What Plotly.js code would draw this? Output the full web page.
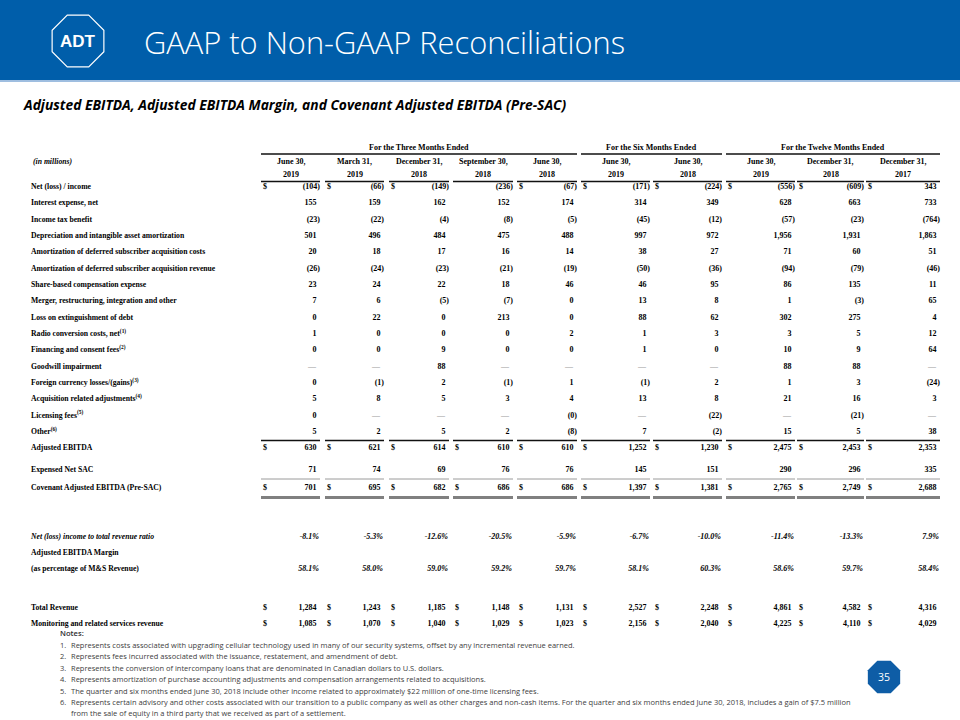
<!DOCTYPE html>
<html>
<head>
<meta charset="utf-8">
<script src="https://cdn.plot.ly/plotly-3.0.1.min.js"></script>
<style>html,body{margin:0;padding:0;background:#fff;}#chart{width:960px;height:720px;}</style>
</head>
<body>
<div id="chart"></div>
<script>
// ---------------- DATA ----------------
const columnMonths = ['June 30,','March 31,','December 31,','September 30,','June 30,','June 30,','June 30,','June 30,','December 31,','December 31,'];
const columnYears = ['2019','2019','2018','2018','2018','2019','2018','2019','2018','2017'];
const groupTitles = ['For the Three Months Ended','For the Six Months Ended','For the Twelve Months Ended'];
const groupSpans = [[0,4],[5,6],[7,9]];

const rowLabels = [
  'Net (loss) / income',
  'Interest expense, net',
  'Income tax benefit',
  'Depreciation and intangible asset amortization',
  'Amortization of deferred subscriber acquisition costs',
  'Amortization of deferred subscriber acquisition revenue',
  'Share-based compensation expense',
  'Merger, restructuring, integration and other',
  'Loss on extinguishment of debt',
  'Radio conversion costs, net<sup>(1)</sup>',
  'Financing and consent fees<sup>(2)</sup>',
  'Goodwill impairment',
  'Foreign currency losses/(gains)<sup>(3)</sup>',
  'Acquisition related adjustments<sup>(4)</sup>',
  'Licensing fees<sup>(5)</sup>',
  'Other<sup>(6)</sup>',
  'Adjusted EBITDA',
  'Expensed Net SAC',
  'Covenant Adjusted EBITDA (Pre-SAC)'
];
const netIncome        = [-104,-66,-149,-236,-67,-171,-224,-556,-609,343];
const interestExpense  = [155,159,162,152,174,314,349,628,663,733];
const incomeTaxBenefit = [-23,-22,-4,-8,-5,-45,-12,-57,-23,-764];
const depreciation     = [501,496,484,475,488,997,972,1956,1931,1863];
const amortSacCosts    = [20,18,17,16,14,38,27,71,60,51];
const amortSacRevenue  = [-26,-24,-23,-21,-19,-50,-36,-94,-79,-46];
const shareBasedComp   = [23,24,22,18,46,46,95,86,135,11];
const mergerOther      = [7,6,-5,-7,0,13,8,1,-3,65];
const lossOnDebt       = [0,22,0,213,0,88,62,302,275,4];
const radioConversion  = [1,0,0,0,2,1,3,3,5,12];
const financingFees    = [0,0,9,0,0,1,0,10,9,64];
const goodwillImpair   = [null,null,88,null,null,null,null,88,88,null];
const foreignCurrency  = [0,-1,2,-1,1,-1,2,1,3,-24];
const acquisitionAdj   = [5,8,5,3,4,13,8,21,16,3];
const licensingFees    = [0,null,null,null,-0,null,-22,null,-21,null];
const otherItems       = [5,2,5,2,-8,7,-2,15,5,38];
const adjustedEbitda   = [630,621,614,610,610,1252,1230,2475,2453,2353];
const expensedNetSac   = [71,74,69,76,76,145,151,290,296,335];
const covenantEbitda   = [701,695,682,686,686,1397,1381,2765,2749,2688];

const ratioLabel  = 'Net (loss) income to total revenue ratio';
const marginLabel1 = 'Adjusted EBITDA Margin';
const marginLabel2 = '(as percentage of M&S Revenue)';
const netIncomeRatio = [-8.1,-5.3,-12.6,-20.5,-5.9,-6.7,-10.0,-11.4,-13.3,7.9];
const ebitdaMargin   = [58.1,58.0,59.0,59.2,59.7,58.1,60.3,58.6,59.7,58.4];

const revenueLabels = ['Total Revenue','Monitoring and related services revenue'];
const totalRevenue      = [1284,1243,1185,1148,1131,2527,2248,4861,4582,4316];
const monitoringRevenue = [1085,1070,1040,1029,1023,2156,2040,4225,4110,4029];

const noteLines = [
  ['1.','Represents costs associated with upgrading cellular technology used in many of our security systems, offset by any incremental revenue earned.'],
  ['2.','Represents fees incurred associated with the issuance, restatement, and amendment of debt.'],
  ['3.','Represents the conversion of intercompany loans that are denominated in Canadian dollars to U.S. dollars.'],
  ['4.','Represents amortization of purchase accounting adjustments and compensation arrangements related to acquisitions.'],
  ['5.','The quarter and six months ended June 30, 2018 include other income related to approximately $22 million of one-time licensing fees.'],
  ['6.','Represents certain advisory and other costs associated with our transition to a public company as well as other charges and non-cash items. For the quarter and six months ended June 30, 2018, includes a gain of $7.5 million'],
  ['','from the sale of equity in a third party that we received as part of a settlement.']
];

// ---------------- LAYOUT CONSTANTS ----------------
const colLeft  = [261,325,389,453,517,581,653,726,797,866];
const colRight = [320,384,449,513,577,650,722,795,864,940];
const bodySeries = [netIncome,interestExpense,incomeTaxBenefit,depreciation,amortSacCosts,amortSacRevenue,
  shareBasedComp,mergerOther,lossOnDebt,radioConversion,financingFees,goodwillImpair,foreignCurrency,
  acquisitionAdj,licensingFees,otherItems,adjustedEbitda,expensedNetSac,covenantEbitda];
const rowY = [];
for (let i=0;i<16;i++) rowY.push(187 + i*16.33);
rowY.push(448, 470, 488);
const dollarFlags = {0:[1,1,1,0,1,1,1,1,1,1],16:'all',18:'all'};
const ratioY = 537, marginY1 = 553, marginY2 = 569;
const revenueY = [608, 624];
const labelX = 31;

const serif = 'Liberation Serif, Times New Roman, serif';
const sans = 'Open Sans, Noto Sans, sans-serif';
const FS = 8;
const LFS = 7.7;

function fmt(v){
  if (v === null) return '—';
  const neg = v < 0 || Object.is(v,-0);
  const s = Math.abs(v).toLocaleString('en-US');
  return neg ? '(' + s + ')' : s;
}
function isNeg(v){ return v !== null && (v < 0 || Object.is(v,-0)); }

const lab = {x:[],y:[],text:[]};
const dol = {x:[],y:[]};
const num = {x:[],y:[],text:[]};
const dash = {x:[],y:[],text:[]};
const pct = {x:[],y:[],text:[]};

rowLabels.forEach((l,i)=>{ lab.x.push(labelX); lab.y.push(rowY[i]); lab.text.push(l); });
bodySeries.forEach((arr,i)=>{
  arr.forEach((v,c)=>{
    if (v === null){ dash.x.push(colRight[c]-4); dash.y.push(rowY[i]); dash.text.push('—'); }
    else { num.x.push(colRight[c] - (isNeg(v)?0:3.5)); num.y.push(rowY[i]); num.text.push(fmt(v)); }
    const f = dollarFlags[i];
    if (f && (f === 'all' || f[c])) { dol.x.push(colLeft[c]+2); dol.y.push(rowY[i]); }
  });
});
[ratioLabel, marginLabel1, marginLabel2].forEach((l,i)=>{
  lab.x.push(labelX); lab.y.push([ratioY,marginY1,marginY2][i]);
  lab.text.push(i===0 ? '<i>'+l+'</i>' : l);
});
netIncomeRatio.forEach((v,c)=>{ pct.x.push(colRight[c]-1); pct.y.push(ratioY); pct.text.push(v.toFixed(1)+'%'); });
ebitdaMargin.forEach((v,c)=>{ pct.x.push(colRight[c]-1); pct.y.push(marginY2); pct.text.push(v.toFixed(1)+'%'); });
[totalRevenue, monitoringRevenue].forEach((arr,i)=>{
  lab.x.push(labelX); lab.y.push(revenueY[i]); lab.text.push(revenueLabels[i]);
  arr.forEach((v,c)=>{
    num.x.push(colRight[c]-3.5); num.y.push(revenueY[i]); num.text.push(fmt(v));
    dol.x.push(colLeft[c]+2); dol.y.push(revenueY[i]);
  });
});

const baseFont = {family: serif, size: FS, color:'#000', weight: 700};
function textTrace(d, pos, font){
  return {type:'scatter', mode:'text', x:d.x, y:d.y, text:d.text, textposition:pos,
    textfont: font, hoverinfo:'skip', cliponaxis:false, showlegend:false};
}
const traces = [
  textTrace(lab, 'middle right', Object.assign({}, baseFont, {size: LFS})),
  textTrace({x:dol.x,y:dol.y,text:dol.x.map(()=> '$')}, 'middle right', baseFont),
  textTrace(num, 'middle left', baseFont),
  textTrace(dash, 'middle left', {family: serif, size: FS, color:'#9a9a9a', weight:400}),
  textTrace(pct, 'middle left', Object.assign({}, baseFont, {style:'italic'}))
];

const annotations = [];
function ann(x,y,text,opts){ annotations.push(Object.assign({x:x,y:y,xref:'x',yref:'y',text:text,showarrow:false,
  xanchor:'center',yanchor:'middle',font:{family:serif,size:FS,color:'#000',weight:700}}, opts||{})); }
columnMonths.forEach((m,c)=>{
  const cx = (colLeft[c]+colRight[c])/2;
  ann(cx, 161, m);
  ann(cx, 174.5, columnYears[c]);
});
groupTitles.forEach((g,i)=>{
  const a = colLeft[groupSpans[i][0]], b = colRight[groupSpans[i][1]];
  ann((a+b)/2, 147.5, g);
});
ann(labelX, 161, '<i>(in millions)</i>', {xanchor:'left', font:{family:serif,size:LFS,color:'#000',weight:700}});

// title & subtitle
annotations.push({x:142,y:42,xref:'x',yref:'y',text:'GAAP to Non-GAAP Reconciliations',showarrow:false,
  xanchor:'left',yanchor:'middle',font:{family:sans,size:30.8,color:'#ffffff',weight:300}});
annotations.push({x:78,y:41,xref:'x',yref:'y',text:'<b>ADT</b>',showarrow:false,
  xanchor:'center',yanchor:'middle',font:{family:'Liberation Sans, Arial, sans-serif',size:17,color:'#ffffff'}});
annotations.push({x:21,y:104,xref:'x',yref:'y',text:'<b><i>Adjusted EBITDA, Adjusted EBITDA Margin, and Covenant Adjusted EBITDA (Pre-SAC)</i></b>',
  showarrow:false,xanchor:'left',yanchor:'middle',font:{family:sans,size:13.8,color:'#000'}});

// notes
const noteFont = {family:sans,size:7.5,color:'#404040'};
annotations.push({x:58,y:633,xref:'x',yref:'y',text:'Notes:',showarrow:false,xanchor:'left',yanchor:'middle',
  font:{family:sans,size:7.6,color:'#303030',weight:600}});
noteLines.forEach((n,i)=>{
  const y = 645 + i*11.4;
  if (n[0]) annotations.push({x:58,y:y,xref:'x',yref:'y',text:n[0],showarrow:false,xanchor:'left',yanchor:'middle',font:noteFont});
  annotations.push({x:69,y:y,xref:'x',yref:'y',text:n[1],showarrow:false,xanchor:'left',yanchor:'middle',font:noteFont});
});
annotations.push({x:884,y:677,xref:'x',yref:'y',text:'35',showarrow:false,xanchor:'center',yanchor:'middle',
  font:{family:sans,size:10.5,color:'#ffffff'}});

// shapes
function octagon(cx,cy,r){
  let p='';
  for(let k=0;k<8;k++){
    const a = Math.PI/8 + k*Math.PI/4;
    const x = cx + r*Math.cos(a), y = cy + r*Math.sin(a);
    p += (k===0?'M':'L') + x.toFixed(2) + ',' + y.toFixed(2);
  }
  return p+'Z';
}
const shapes = [];
shapes.push({type:'rect',xref:'x',yref:'y',x0:0,x1:960,y0:0,y1:80,fillcolor:'#005EAA',line:{width:0},layer:'below'});
shapes.push({type:'line',xref:'x',yref:'y',x0:0,x1:960,y0:81,y1:81,line:{color:'#7FA9D6',width:1.5},layer:'below'});
shapes.push({type:'path',xref:'x',yref:'y',path:octagon(78,41,28),line:{color:'#ffffff',width:1.2},fillcolor:'rgba(0,0,0,0)'});
shapes.push({type:'path',xref:'x',yref:'y',path:octagon(884,677,17.5),line:{width:0},fillcolor:'#0E5DA6',layer:'below'});

function seg(x0,x1,y,color,w){ shapes.push({type:'line',xref:'x',yref:'y',x0:x0,x1:x1,y0:y,y1:y,line:{color:color,width:w}}); }
groupSpans.forEach(s=> seg(colLeft[s[0]], colRight[s[1]], 154, '#111', 1.4));
colLeft.forEach((l,c)=>{
  seg(l, colRight[c], 181.5, '#111', 1.4);
  seg(l, colRight[c], 440.5, '#111', 1.4);
  seg(l, colRight[c], 479, '#9a9a9a', 1);
  seg(l, colRight[c], 497.5, '#808080', 3.2);
});

const layout = {
  width:960, height:720, margin:{l:0,r:0,t:0,b:0},
  paper_bgcolor:'#ffffff', plot_bgcolor:'#ffffff',
  xaxis:{range:[0,960], visible:false, fixedrange:true},
  yaxis:{range:[720,0], visible:false, fixedrange:true},
  showlegend:false, annotations:annotations, shapes:shapes
};
Plotly.newPlot('chart', traces, layout, {staticPlot:true, displayModeBar:false});
</script>
</body>
</html>
